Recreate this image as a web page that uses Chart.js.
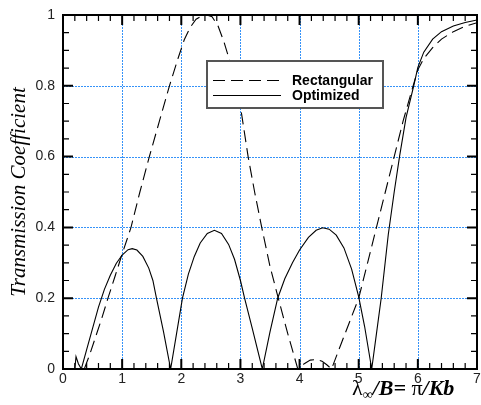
<!DOCTYPE html>
<html>
<head>
<meta charset="utf-8">
<script src="https://cdn.jsdelivr.net/npm/chart.js@4/dist/chart.umd.min.js"></script>
<style>
  html, body { margin: 0; padding: 0; background: #ffffff; }
  #wrap { width: 481px; height: 405px; }
</style>
</head>
<body>
<div id="wrap"><canvas id="chart" width="481" height="405"></canvas></div>
<script>
// Transmission coefficient vs. lambda/B for the two trench profiles
const seriesNames = ['Rectangular', 'Optimized'];

const rectX = [0.36, 0.45, 0.55, 0.65, 0.76, 0.88, 1.0, 1.15, 1.3, 1.46, 1.63, 1.8, 1.95, 2.05, 2.15, 2.25, 2.35, 2.43, 2.52, 2.62, 2.72, 2.82, 2.92, 3.02, 3.13, 3.24, 3.36, 3.5, 3.64, 3.8, 3.97, 4.08, 4.18, 4.28, 4.38, 4.46, 4.54, 4.7, 4.85, 5.0, 5.15, 5.3, 5.45, 5.6, 5.75, 5.92, 6.0, 6.1, 6.25, 6.4, 6.6, 6.8, 7.0];
const rectY = [0, 0.04, 0.09, 0.14, 0.2, 0.262, 0.325, 0.4, 0.5, 0.6, 0.7, 0.8, 0.88, 0.93, 0.965, 0.988, 0.998, 1.0, 0.995, 0.97, 0.925, 0.87, 0.8, 0.72, 0.6, 0.5, 0.4, 0.29, 0.2, 0.1, 0, 0.015, 0.025, 0.027, 0.022, 0.012, 0, 0.07, 0.135, 0.2, 0.3, 0.4, 0.5, 0.6, 0.7, 0.8, 0.845, 0.877, 0.908, 0.932, 0.953, 0.968, 0.978];

const optX = [0.2, 0.22, 0.26, 0.31, 0.4, 0.5, 0.6, 0.7, 0.8, 0.9, 1.0, 1.1, 1.17, 1.25, 1.35, 1.45, 1.52, 1.58, 1.7, 1.82, 1.92, 2.02, 2.12, 2.22, 2.32, 2.44, 2.56, 2.68, 2.8, 2.9, 3.0, 3.07, 3.2, 3.37, 3.5, 3.63, 3.75, 3.88, 4.0, 4.15, 4.28, 4.39, 4.5, 4.62, 4.75, 4.88, 5.0, 5.1, 5.22, 5.3, 5.38, 5.5, 5.6, 5.69, 5.8, 5.93, 6.0, 6.1, 6.25, 6.4, 6.6, 6.8, 7.0];
const optY = [0, 0.035, 0.015, 0, 0.055, 0.115, 0.175, 0.225, 0.265, 0.298, 0.322, 0.337, 0.34, 0.336, 0.318, 0.285, 0.25, 0.2, 0.105, 0, 0.1, 0.2, 0.268, 0.318, 0.356, 0.383, 0.392, 0.383, 0.352, 0.31, 0.25, 0.2, 0.115, 0, 0.105, 0.2, 0.255, 0.3, 0.336, 0.372, 0.392, 0.399, 0.395, 0.378, 0.342, 0.282, 0.204, 0.12, 0, 0.1, 0.2, 0.38, 0.5, 0.6, 0.71, 0.8, 0.852, 0.895, 0.932, 0.953, 0.969, 0.979, 0.986];

const xTicks = [0, 1, 2, 3, 4, 5, 6, 7];
const yTicks = [0, 0.2, 0.4, 0.6, 0.8, 1];
const xMinorStep = 0.2;
const yMinorStep = 0.05;

const toPoints = (xs, ys) => xs.map((x, i) => ({ x: x, y: ys[i] }));

const SANS = "'Liberation Sans', Arial, sans-serif";
const SERIF = "'Liberation Serif', 'Times New Roman', serif";
const GRID_BLUE = '#3592f8';

// Dotted blue grid drawn beneath the curves
const gridPlugin = {
  id: 'dottedGrid',
  beforeDatasetsDraw(chart) {
    const { ctx, chartArea: a, scales } = chart;
    const sx = scales.x, sy = scales.y;
    ctx.save();
    ctx.fillStyle = GRID_BLUE;
    const top = Math.round(a.top), bottom = Math.round(a.bottom);
    const left = Math.round(a.left), right = Math.round(a.right);
    xTicks.slice(1, -1).forEach(v => {
      const px = Math.round(sx.getPixelForValue(v));
      for (let yy = top; yy < bottom; yy += 3) ctx.fillRect(px, yy, 1, 2);
    });
    yTicks.slice(1, -1).forEach(v => {
      const py = Math.round(sy.getPixelForValue(v));
      for (let xx = left; xx < right; xx += 3) ctx.fillRect(xx, py, 2, 1);
    });
    ctx.restore();
  }
};

// Frame with inward ticks, inset legend and axis titles, drawn on top
const framePlugin = {
  id: 'frameAndLabels',
  afterDraw(chart) {
    const ctx = chart.ctx;
    const a = chart.chartArea;
    const sx = chart.scales.x, sy = chart.scales.y;
    ctx.save();
    ctx.setLineDash([]);
    ctx.strokeStyle = '#000';

    const nx = Math.round((sx.max - sx.min) / xMinorStep);
    for (let i = 0; i <= nx; i++) {
      const major = i % 5 === 0;
      const px = sx.getPixelForValue(sx.min + i * xMinorStep);
      const len = major ? 10 : 6;
      ctx.lineWidth = major ? 2 : 1.2;
      ctx.beginPath();
      ctx.moveTo(px, a.bottom);
      ctx.lineTo(px, a.bottom - len);
      ctx.moveTo(px, a.top);
      ctx.lineTo(px, a.top + len);
      ctx.stroke();
    }
    const ny = Math.round((sy.max - sy.min) / yMinorStep);
    for (let i = 0; i <= ny; i++) {
      const major = i % 4 === 0;
      const py = sy.getPixelForValue(sy.min + i * yMinorStep);
      const len = major ? 10 : 6;
      ctx.lineWidth = major ? 2 : 1.2;
      ctx.beginPath();
      ctx.moveTo(a.left, py);
      ctx.lineTo(a.left + len, py);
      ctx.moveTo(a.right, py);
      ctx.lineTo(a.right - len, py);
      ctx.stroke();
    }

    // frame
    ctx.lineWidth = 2;
    ctx.strokeRect(a.left, a.top, a.right - a.left, a.bottom - a.top);

    // legend box
    const bx = 207, by = 61, bw = 176, bh = 47;
    ctx.fillStyle = '#fff';
    ctx.fillRect(bx, by, bw, bh);
    ctx.strokeStyle = '#555';
    ctx.lineWidth = 2;
    ctx.strokeRect(bx, by, bw, bh);
    const rows = [{ y: 80.5, dash: [12, 6] }, { y: 95.5, dash: [] }];
    ctx.strokeStyle = '#000';
    ctx.lineWidth = 1.1;
    ctx.font = 'bold 14px ' + SANS;
    ctx.fillStyle = '#000';
    ctx.textBaseline = 'middle';
    ctx.textAlign = 'left';
    rows.forEach((r, i) => {
      ctx.setLineDash(r.dash);
      ctx.beginPath(); ctx.moveTo(213, r.y); ctx.lineTo(281, r.y); ctx.stroke();
      ctx.fillText(seriesNames[i], 292, r.y + 1);
    });
    ctx.setLineDash([]);

    // y axis title
    ctx.save();
    ctx.translate(25, 192);
    ctx.rotate(-Math.PI / 2);
    ctx.font = 'italic 21px ' + SERIF;
    ctx.textAlign = 'center';
    ctx.textBaseline = 'alphabetic';
    ctx.fillText('Transmission Coefficient', 0, 0);
    ctx.restore();

    // x axis title: lambda with infinity subscript, then /B= pi/Kb
    const parts = [
      { t: 'λ', f: '22px ' + SERIF, dy: 0 },
      { t: '∞', f: '14px ' + SERIF, dy: 4 },
      { t: '/B=', f: 'bold italic 22px ' + SERIF, dy: 0 },
      { t: ' π', f: '22px ' + SERIF, dy: 0 },
      { t: '/Kb', f: 'bold italic 22px ' + SERIF, dy: 0 }
    ];
    let cx = 352;
    const base = 395;
    ctx.textAlign = 'left';
    ctx.textBaseline = 'alphabetic';
    ctx.fillStyle = '#000';
    parts.forEach(p => {
      ctx.font = p.f;
      ctx.fillText(p.t, cx, base + p.dy);
      cx += ctx.measureText(p.t).width;
    });
    ctx.restore();
  }
};

new Chart(document.getElementById('chart'), {
  type: 'scatter',
  data: {
    datasets: [
      {
        label: seriesNames[0],
        data: toPoints(rectX, rectY),
        showLine: true,
        borderColor: '#000',
        borderWidth: 1.1,
        borderDash: [12, 6],
        pointRadius: 0,
        tension: 0
      },
      {
        label: seriesNames[1],
        data: toPoints(optX, optY),
        showLine: true,
        borderColor: '#000',
        borderWidth: 1.1,
        pointRadius: 0,
        tension: 0
      }
    ]
  },
  options: {
    responsive: false,
    animation: false,
    devicePixelRatio: 1,
    layout: { padding: { left: 0, top: 15, right: 4, bottom: 0 } },
    plugins: { legend: { display: false }, tooltip: { enabled: false } },
    scales: {
      x: {
        type: 'linear',
        min: 0, max: 7,
        afterBuildTicks: s => { s.ticks = xTicks.map(v => ({ value: v })); },
        afterFit: s => { s.height = 36; s.paddingLeft = 0; s.paddingRight = 0; },
        grid: { display: false, drawTicks: false },
        border: { display: false },
        ticks: {
          font: { family: SANS, size: 14 },
          color: '#222',
          padding: 2,
          maxRotation: 0,
          autoSkip: false,
          callback: v => String(v)
        }
      },
      y: {
        type: 'linear',
        min: 0, max: 1,
        afterBuildTicks: s => { s.ticks = yTicks.map(v => ({ value: v })); },
        afterFit: s => { s.width = 63; s.paddingTop = 0; s.paddingBottom = 0; },
        grid: { display: false, drawTicks: false },
        border: { display: false },
        ticks: {
          font: { family: SANS, size: 14 },
          color: '#222',
          padding: 8,
          autoSkip: false,
          callback: v => (v === 0 ? '0' : v === 1 ? '1' : v.toFixed(1))
        }
      }
    }
  },
  plugins: [gridPlugin, framePlugin]
});
</script>
</body>
</html>
